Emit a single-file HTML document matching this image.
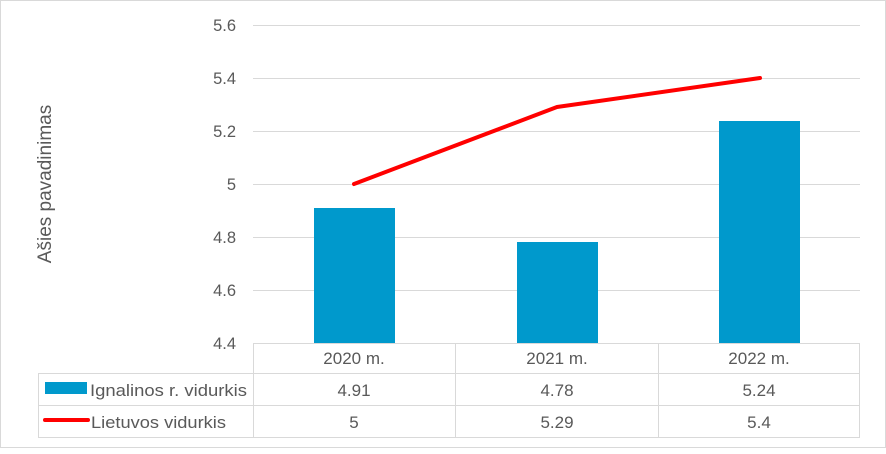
<!DOCTYPE html><html><head><style>body{margin:0;background:#fff}svg text{font-family:"Liberation Sans",sans-serif;fill:#595959}</style></head><body>
<svg width="886" height="449" xmlns="http://www.w3.org/2000/svg">
<rect x="0.5" y="0.5" width="885" height="447" fill="#fff" stroke="#d9d9d9"/>
<g stroke="#d9d9d9" stroke-width="1">
<line x1="253" y1="25.5" x2="860" y2="25.5"/><line x1="253" y1="78.5" x2="860" y2="78.5"/><line x1="253" y1="131.5" x2="860" y2="131.5"/><line x1="253" y1="184.5" x2="860" y2="184.5"/><line x1="253" y1="237.5" x2="860" y2="237.5"/><line x1="253" y1="290.5" x2="860" y2="290.5"/>
</g>
<g font-size="16.5" text-anchor="end">
<text x="236" y="31">5.6</text><text x="236" y="84">5.4</text><text x="236" y="137">5.2</text><text x="236" y="190">5</text><text x="236" y="243">4.8</text><text x="236" y="296">4.6</text><text x="236" y="349">4.4</text>
</g>
<text transform="translate(51,184) rotate(-90)" font-size="19" text-anchor="middle">Ašies pavadinimas</text>
<g>
<rect x="314" y="208" width="81" height="135" style="fill:#0099cc"/><rect x="517" y="242" width="81" height="101" style="fill:#0099cc"/><rect x="719" y="121" width="81" height="222" style="fill:#0099cc"/>
</g>
<polyline points="354,184 557,107 760,78" fill="none" stroke="#ff0000" stroke-width="4" stroke-linecap="round" stroke-linejoin="round"/>
<g stroke="#d9d9d9" stroke-width="1" fill="none">
<line x1="253" y1="343.5" x2="860" y2="343.5"/>
<line x1="38" y1="373.5" x2="860" y2="373.5"/>
<line x1="38" y1="405.5" x2="860" y2="405.5"/>
<line x1="38" y1="437.5" x2="860" y2="437.5"/>
<line x1="38.5" y1="373" x2="38.5" y2="437"/>
<line x1="253.5" y1="343" x2="253.5" y2="437"/>
<line x1="455.5" y1="343" x2="455.5" y2="437"/>
<line x1="658.5" y1="343" x2="658.5" y2="437"/>
<line x1="859.5" y1="343" x2="859.5" y2="437"/>
</g>
<g font-size="17" text-anchor="middle">
<text x="354" y="364">2020 m.</text><text x="557" y="364">2021 m.</text><text x="759" y="364">2022 m.</text>
<text x="354" y="396">4.91</text><text x="557" y="396">4.78</text><text x="759" y="396">5.24</text>
<text x="354" y="428">5</text><text x="557" y="428">5.29</text><text x="759" y="428">5.4</text>
</g>
<rect x="45" y="382" width="42" height="12" style="fill:#0099cc"/>
<line x1="45" y1="420" x2="88" y2="420" stroke="#ff0000" stroke-width="4" stroke-linecap="round"/>
<text x="90" y="396" font-size="17" textLength="157" lengthAdjust="spacingAndGlyphs">Ignalinos r. vidurkis</text>
<text x="91" y="428" font-size="17" textLength="135" lengthAdjust="spacingAndGlyphs">Lietuvos vidurkis</text>
</svg></body></html>
